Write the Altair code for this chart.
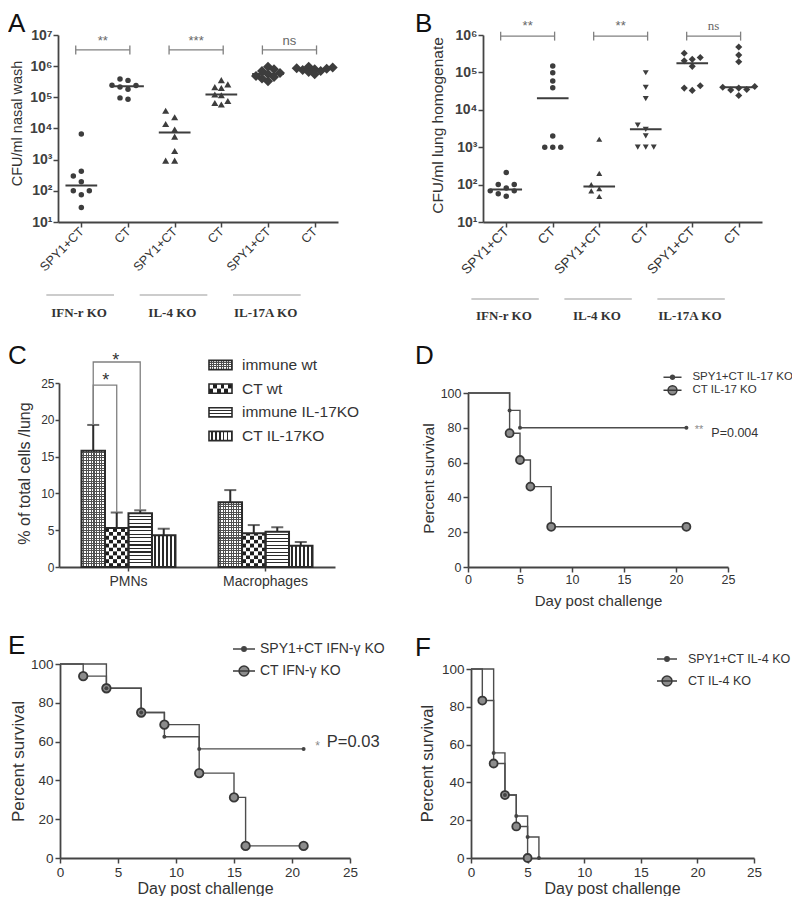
import altair as alt
import numpy as np
import pandas as pd

# ======================= DATA =======================
groups = ["IFN-r KO", "IL-4 KO", "IL-17A KO"]
treatments = ["SPY1+CT", "CT"]

# Panel A : CFU/ml nasal wash
A_ifn_spy = [6700, 425, 300, 196, 100, 100, 75, 29]
A_ifn_ct = [385000, 350000, 245000, 240000, 213000, 183000, 96000, 87000]
A_il4_spy = [37000, 23000, 14000, 9300, 5500, 1900, 930, 930]
A_il4_ct = [355000, 260000, 213000, 200000, 123000, 117000, 76000, 66000, 59000]
A_il17_spy = [950000, 800000, 700000, 600000, 560000, 480000, 450000, 400000, 330000]
A_il17_ct = [950000, 900000, 850000, 820000, 800000, 750000, 700000, 650000, 550000]
A_sig = ["**", "***", "ns"]

# Panel B : CFU/ml lung homogenate
B_ifn_spy = [210, 100, 100, 81, 68, 68, 57, 49]
B_ifn_ct = [148000, 98000, 59000, 39000, 2000, 1000, 1000, 1000]
B_il4_spy = [1630, 200, 100, 78, 68, 48]
B_il4_ct = [98000, 40000, 20000, 3900, 3000, 2000, 1000, 1000, 1000]
B_il17_spy = [324000, 251000, 223000, 206000, 145000, 44000, 38000, 33000]
B_il17_ct = [477000, 290000, 193000, 42000, 40000, 38000, 35000, 34000, 24000]
B_sig = ["**", "**", "ns"]

# Panel C : % of total cells / lung
cell_types = ["PMNs", "Macrophages"]
C_series = ["immune wt", "CT wt", "immune IL-17KO", "CT IL-17KO"]
C_pmn_mean = [15.8, 5.3, 7.3, 4.3]
C_pmn_sem = [3.5, 2.1, 0.4, 0.9]
C_mac_mean = [8.8, 4.6, 4.8, 2.9]
C_mac_sem = [1.65, 1.1, 0.6, 0.5]
C_ticks = [0, 5, 10, 15, 20, 25]

# Panels D-F : Kaplan-Meier survival
day_ticks = [0, 5, 10, 15, 20, 25]
pct_ticks = [0, 20, 40, 60, 80, 100]

D_names = ["SPY1+CT IL-17 KO", "CT IL-17 KO"]
D_spy_day = [0, 4, 5, 21]
D_spy_pct = [100, 90, 80, 80]
D_ct_day = [0, 4, 5, 6, 8, 21]
D_ct_pct = [100, 76.9, 61.5, 46.2, 23.1, 23.1]

E_names = ["SPY1+CT IFN-γ KO", "CT IFN-γ KO"]
E_spy_day = [0, 4, 7, 9, 12, 21]
E_spy_pct = [100, 87.5, 75, 62.5, 56.25, 56.25]
E_ct_day = [0, 2, 4, 7, 9, 12, 15, 16, 21]
E_ct_pct = [100, 93.75, 87.5, 75, 68.75, 43.75, 31.25, 6.25, 6.25]

F_names = ["SPY1+CT IL-4 KO", "CT IL-4 KO"]
F_spy_day = [0, 2, 3, 4, 5, 6]
F_spy_pct = [100, 55.6, 33.3, 22.2, 11.1, 0]
F_ct_day = [0, 1, 2, 3, 4, 5]
F_ct_pct = [100, 83.3, 50, 33.3, 16.7, 0]

# ======================= STYLE / LAYOUT =======================
W, H = 784, 888
FONT = "Liberation Sans"
SERIF = "Liberation Serif"
AXC = "#444444"
TXT = "#333333"
PT = "#3d3d3d"
BRC = "#808080"
EDGE = "#2a2a2a"
LINE = "#4d4d4d"
CT_FILL = "#8c8c8c"
CT_EDGE = "#383838"
CLEAR = "rgba(255,255,255,0)"


def ax(**kw):
    base = dict(domainColor=AXC, domainWidth=1.8, tickColor=AXC, tickWidth=1.5, tickSize=5,
                labelColor=TXT, labelFont=FONT, titleFont=FONT, titleColor=TXT,
                titleFontWeight="normal", grid=False, labelFlush=False, labelOverlap=False)
    base.update(kw)
    return alt.Axis(**base)


def left_axis(x, title, tx, ty, tsize, lsize, values, **kw):
    return ax(orient="left", offset=-x, values=values, title=title, titleX=tx - x, titleY=ty,
              titleAngle=270, titleAlign="center", titleBaseline="middle", titleFontSize=tsize,
              labelFontSize=lsize, **kw)


def bottom_axis(y, values=None, title=None, tx=None, ty=None, tsize=None, lsize=13,
                tbase="middle", **kw):
    d = dict(orient="bottom", offset=y - H, labelFontSize=lsize)
    if values is not None:
        d["values"] = values
    if title:
        d.update(title=title, titleX=tx, titleY=ty - y, titleAlign="center",
                 titleBaseline=tbase, titleFontSize=tsize)
    else:
        d["title"] = None
    d.update(kw)
    return ax(**d)


def swarm(vals, px_per_decade, step, thresh):
    ys = np.log10(np.asarray(vals, float)) * px_per_decade
    order = np.argsort(ys, kind="stable")
    placed, offs = [], np.zeros(len(ys))
    for i in order:
        for k in (0, -1, 1, -2, 2, -3, 3, -4, 4, -5, 5):
            if all(abs(ys[i] - py) >= thresh for py, pk in placed if pk == k):
                break
        placed.append((ys[i], k))
        offs[i] = k * step
    return offs


def scatter_panel(sets, sig, top_exp, x0, x1, yb, yt, shapes, sizes, steps, threshs,
                  ytitle, ytx, yty, ytsize, xlab_size, br_exp, br_half, star_exp,
                  glab_y, gline_y, ns_font):
    ppu = (x1 - x0) / 6.0
    ppd = (yb - yt) / (top_exp - 1.0)
    xs = alt.Scale(domain=[-0.5, 5.5], range=[x0, x1], nice=False, zero=False)
    ys = alt.Scale(type="log", domain=[10, 10 ** top_exp], range=[yb, yt], nice=False)
    yvals = [10 ** k for k in range(1, top_exp + 1)]
    sup = "['⁰','¹','²','³','⁴','⁵','⁶','⁷','⁸']"
    ax_y = left_axis(x0, ytitle, ytx, yty, ytsize, 14, yvals,
                     labelExpr="'10' + " + sup + "[round(log(datum.value) / LN10)]",
                     labelFontWeight="bold", labelPadding=1, labelColor="#404040")
    tnames = "[" + ",".join("'%s'" % t for t in treatments) + "]"
    ax_x = bottom_axis(yb, list(range(6)), lsize=xlab_size,
                       labelExpr=tnames + "[datum.value % 2]",
                       labelAngle=-45, labelAlign="right", labelBaseline="middle", labelPadding=2)
    X = lambda f: alt.X(f, scale=xs, axis=ax_x)
    Y = lambda f: alt.Y(f, scale=ys, axis=ax_y)
    layers, med_rows = [], []
    for gi, g in enumerate(groups):
        for ti, t in enumerate(treatments):
            idx = 2 * gi + ti
            vals = sets[gi][ti]
            offs = swarm(vals, ppd, steps[idx], threshs[idx])
            dfp = pd.DataFrame({"xj": idx + offs / ppu, "val": vals})
            layers.append(
                alt.Chart(dfp).mark_point(filled=True, opacity=1, color=PT, shape=shapes[idx],
                                          size=sizes[idx], strokeWidth=0).encode(
                    x=X("xj:Q"), y=Y("val:Q")))
            med_rows.append({"m1": idx - 0.34, "m2": idx + 0.34, "med": float(np.median(vals))})
    dmed = pd.DataFrame(med_rows)
    layers.append(alt.Chart(dmed).mark_rule(color=PT, strokeWidth=2).encode(
        x=X("m1:Q"), x2="m2:Q", y=Y("med:Q")))
    by = 10 ** br_exp
    br = pd.DataFrame({"b1": [2 * g - 0.12 for g in range(3)],
                       "b2": [2 * g + 1.04 for g in range(3)],
                       "by": [by] * 3,
                       "sx": [2 * g + 0.46 for g in range(3)],
                       "sy": [10 ** star_exp] * 3,
                       "lab": sig})
    ends = pd.DataFrame({"bx": list(br["b1"]) + list(br["b2"]),
                         "lo": [by * 10 ** (-br_half)] * 6,
                         "hi": [by * 10 ** br_half] * 6})
    layers.append(alt.Chart(br).mark_rule(color=BRC, strokeWidth=1.3).encode(
        x=X("b1:Q"), x2="b2:Q", y=Y("by:Q")))
    layers.append(alt.Chart(ends).mark_rule(color=BRC, strokeWidth=1.3).encode(
        x=X("bx:Q"), y=Y("lo:Q"), y2="hi:Q"))
    layers.append(alt.Chart(br).transform_filter(alt.datum.lab != "ns").mark_text(
        fontSize=13, color="#666666", baseline="middle", font=FONT).encode(
        x=X("sx:Q"), y=Y("sy:Q"), text="lab:N"))
    layers.append(alt.Chart(br).transform_filter(alt.datum.lab == "ns").mark_text(
        fontSize=13, color="#666666", baseline="middle", font=ns_font).encode(
        x=X("sx:Q"), y=Y("sy:Q"), text="lab:N"))
    glab = pd.DataFrame({"grp": groups,
                         "gx": [2 * g - 0.05 for g in range(3)],
                         "g1": [2 * g - 0.75 for g in range(3)],
                         "g2": [2 * g + 0.7 for g in range(3)]})
    layers.append(alt.Chart(glab).mark_rule(color="#9a9a9a", strokeWidth=1.2).encode(
        x=X("g1:Q"), x2="g2:Q", y=alt.value(gline_y)))
    layers.append(alt.Chart(glab).mark_text(font=SERIF, fontWeight="bold", fontSize=13,
                                            color=TXT, baseline="middle").encode(
        x=X("gx:Q"), y=alt.value(glab_y), text="grp:N"))
    return alt.layer(*layers)


# ---------- A & B ----------
panelA = scatter_panel(
    [[A_ifn_spy, A_ifn_ct], [A_il4_spy, A_il4_ct], [A_il17_spy, A_il17_ct]], A_sig, 7,
    50, 330, 214, 27,
    ["circle", "circle", "triangle-up", "triangle-up", "diamond", "diamond"],
    [30, 30, 50, 50, 100, 100],
    [8, 8, 9, 6.5, 6, 6], [6, 6, 7, 6, 6, 5],
    "CFU/ml nasal wash", 9, 115, 14.5, 12.5, 6.52, 0.145, 6.8, 305, 287, FONT)

panelB = scatter_panel(
    [[B_ifn_spy, B_ifn_ct], [B_il4_spy, B_il4_ct], [B_il17_spy, B_il17_ct]], B_sig, 6,
    475, 754, 214, 27,
    ["circle", "circle", "triangle-up", "triangle-down", "diamond", "diamond"],
    [30, 30, 36, 36, 50, 50],
    [8, 8, 8, 8, 8, 8], [6, 6, 6, 6, 6.5, 6.5],
    "CFU/ml lung homogenate", 429, 117, 15.5, 13.5, 5.97, 0.12, 6.25, 308, 291, SERIF)


# ---------- C ----------
def stripes(n, horizontal_lines, dark="#2a2a2a", light="#ffffff", dark_frac=0.38):
    n = max(1, int(n))
    stops = []
    for k in range(n):
        a, b, c = k / n, (k + 1 - dark_frac) / n, (k + 1) / n
        stops += [alt.GradientStop(offset=a, color=light), alt.GradientStop(offset=b, color=light),
                  alt.GradientStop(offset=b, color=dark), alt.GradientStop(offset=c, color=dark)]
    if horizontal_lines:
        return alt.LinearGradient(gradient="linear", stops=stops, x1=0, x2=0, y1=0, y2=1)
    return alt.LinearGradient(gradient="linear", stops=stops, x1=0, x2=1, y1=0, y2=0)


C_Y0, C_Y1 = 559, 375
PXU = (C_Y0 - C_Y1) / 25.0          # pixels per percent unit
xC = alt.Scale(domain=cell_types, range=[51, 327], paddingInner=0.314, paddingOuter=0.164)
yC = alt.Scale(domain=[0, 25], range=[C_Y0, C_Y1], nice=False)
xoC = alt.Scale(domain=C_series, paddingInner=0, paddingOuter=0)

rowsC = []
for c, means, sems in zip(cell_types, [C_pmn_mean, C_mac_mean], [C_pmn_sem, C_mac_sem]):
    for s, m, e in zip(C_series, means, sems):
        rowsC.append({"cell": c, "series": s, "mean": m, "top": m + e})
dfC = pd.DataFrame(rowsC)

ax_cx = bottom_axis(559, lsize=14, tickSize=4, labelPadding=3, labelAngle=0)
ax_cy = left_axis(51, "% of total cells /lung", 16, 465, 16, 12, C_ticks, labelPadding=1, tickSize=4)
CX = alt.X("cell:N", scale=xC, axis=ax_cx)
CO = alt.XOffset("series:N", scale=xoC)
CY = lambda f: alt.Y(f, scale=yC, axis=ax_cy)


def fill_bar(df, fill, y="mean:Q", y2=None):
    enc = dict(x=CX, xOffset=CO, y=CY(y))
    if y2:
        enc["y2"] = y2
    return alt.Chart(df).mark_bar(fill=fill, strokeWidth=0, opacity=1).encode(**enc)


c_layers = []
for r in rowsC:
    one_bar = pd.DataFrame([r])
    hp = r["mean"] * PXU
    s = r["series"]
    if s == "immune wt":       # fine dotted texture
        c_layers.append(fill_bar(one_bar, "#ffffff"))
        c_layers.append(fill_bar(one_bar, stripes(9, False, "#505050", CLEAR, 0.4)))
        c_layers.append(fill_bar(one_bar, stripes(round(hp / 2.6), True, "#505050", CLEAR, 0.4)))
    elif s == "CT wt":         # checkerboard
        cu = 3.9 / PXU
        nrow = int(np.ceil(r["mean"] / cu))
        chk = pd.DataFrame({"cell": r["cell"], "series": s,
                            "y0": [k * cu for k in range(nrow)],
                            "y1": [min(r["mean"], (k + 1) * cu) for k in range(nrow)],
                            "par": [k % 2 for k in range(nrow)]})
        c_layers.append(fill_bar(chk[chk.par == 0], stripes(3, False, "#1e1e1e", "#ffffff", 0.5),
                                 "y0:Q", "y1:Q"))
        c_layers.append(fill_bar(chk[chk.par == 1], stripes(3, False, "#ffffff", "#1e1e1e", 0.5),
                                 "y0:Q", "y1:Q"))
    elif s == "immune IL-17KO":  # horizontal stripes
        c_layers.append(fill_bar(one_bar, stripes(round(hp / 3.6), True, "#2a2a2a", "#ffffff", 0.35)))
    else:                        # vertical stripes
        c_layers.append(fill_bar(one_bar, stripes(6, False, "#2a2a2a", "#ffffff", 0.38)))
c_layers.append(alt.Chart(dfC).mark_bar(fill="transparent", stroke=EDGE, strokeWidth=2).encode(
    x=CX, xOffset=CO, y=CY("mean:Q")))
c_layers.append(alt.Chart(dfC).mark_rule(color=EDGE, strokeWidth=2).encode(
    x=CX, xOffset=CO, y=CY("mean:Q"), y2="top:Q"))
c_layers.append(alt.Chart(dfC).mark_tick(color=EDGE, thickness=2, size=12).encode(
    x=CX, xOffset=CO, y=CY("top:Q")))

C_br_low, C_br_high = 24.7, 27.85
tops = {(r["cell"], r["series"]): r["top"] for r in rowsC}
br_rows = []
for b, (target, level) in enumerate([("CT wt", C_br_low), ("immune IL-17KO", C_br_high)]):
    verts = [("immune wt", tops[("PMNs", "immune wt")]), ("immune wt", level),
             (target, level), (target, tops[("PMNs", target)])]
    for o, (s, yv) in enumerate(verts):
        br_rows.append({"br": b, "ord": o, "cell": "PMNs", "series": s, "y": yv})
c_layers.append(alt.Chart(pd.DataFrame(br_rows)).mark_line(color=BRC, strokeWidth=1.3).encode(
    x=CX, xOffset=CO, y=CY("y:Q"), detail="br:N", order="ord:Q"))
star_df = pd.DataFrame({"cell": ["PMNs", "PMNs"], "series": ["CT wt", "CT wt"],
                        "y": [C_br_high + 0.1, C_br_low + 0.6]})
c_layers.append(alt.Chart(star_df.iloc[[0]]).mark_text(
    text="*", fontSize=18, color=TXT, baseline="middle", dx=-1).encode(
    x=CX, xOffset=CO, y=CY("y:Q")))
c_layers.append(alt.Chart(star_df.iloc[[1]]).mark_text(
    text="*", fontSize=18, color=TXT, baseline="middle", dx=-11).encode(
    x=CX, xOffset=CO, y=CY("y:Q")))
panelC = alt.layer(*c_layers)

# legend of C (patterned swatches)
legC_df = pd.DataFrame({"series": C_series})
yLeg = alt.Scale(type="point", domain=C_series, range=[357, 428], padding=0)
LY = alt.Y("series:N", scale=yLeg, axis=None)
RECT_PATH = "M-1,-0.4H1V0.4H-1Z"
TOP_HALF = "M-1,-0.4H1V0H-1Z"
BOT_HALF = "M-1,0H1V0.4H-1Z"


def swatch(series, fill, shape=RECT_PATH):
    return alt.Chart(legC_df).transform_filter(alt.datum.series == series).mark_point(
        shape=shape, size=529, filled=True, fill=fill, strokeWidth=0, opacity=1).encode(
        x=alt.value(212.5), y=LY)


leg_layers = [
    swatch("immune wt", "#ffffff"),
    swatch("immune wt", stripes(9, False, "#505050", CLEAR, 0.4)),
    swatch("immune wt", stripes(4, True, "#505050", CLEAR, 0.4)),
    swatch("CT wt", stripes(3, False, "#1e1e1e", "#ffffff", 0.5), TOP_HALF),
    swatch("CT wt", stripes(3, False, "#ffffff", "#1e1e1e", 0.5), BOT_HALF),
    swatch("immune IL-17KO", stripes(3, True, "#2a2a2a", "#ffffff", 0.35)),
    swatch("CT IL-17KO", stripes(6, False, "#2a2a2a", "#ffffff", 0.38)),
    alt.Chart(legC_df).mark_point(shape=RECT_PATH, size=529, filled=False, stroke=EDGE,
                                  strokeWidth=1.6, opacity=1).encode(x=alt.value(212.5), y=LY),
    alt.Chart(legC_df).mark_text(align="left", baseline="middle", fontSize=15.5, font=FONT,
                                 color=TXT).encode(x=alt.value(234), y=LY, text="series:N"),
]
legendC = alt.layer(*leg_layers)


# ---------- D, E, F ----------
def legpath(r, half=1.0):
    return "M{a},0H{h}M{r},0A{r},{r},0,1,1,{m},0A{r},{r},0,1,1,{r},0Z".format(
        a=-half, h=half, r=r, m=-r)


def km_panel(names, spy_day, spy_pct, ct_day, ct_pct, x0, x1, yb, yt,
             ylab, xlab, xlabpad, ytg, xtg, leg, ct_size, texts):
    rows = [{"series": names[0], "day": d, "pct": p} for d, p in zip(spy_day, spy_pct)]
    rows += [{"series": names[1], "day": d, "pct": p} for d, p in zip(ct_day, ct_pct)]
    df = pd.DataFrame(rows)
    xs = alt.Scale(domain=[0, 25], range=[x0, x1], nice=False, zero=False)
    ys = alt.Scale(domain=[0, 100], range=[yb, yt], nice=False)
    ay = left_axis(x0, "Percent survival", ytg[0], ytg[1], ytg[2], ylab, pct_ticks,
                   labelPadding=2, tickSize=5)
    axx = bottom_axis(yb, day_ticks, "Day post challenge", xtg[0], xtg[1], xtg[2], lsize=xlab,
                      tbase=xtg[3], labelPadding=xlabpad, tickSize=5)
    X = lambda f: alt.X(f, scale=xs, axis=axx)
    Y = lambda f: alt.Y(f, scale=ys, axis=ay)
    layers = [alt.Chart(df).mark_line(interpolate="step-after", color=LINE, strokeWidth=1.4).encode(
        x=X("day:Q"), y=Y("pct:Q"), detail="series:N")]
    layers.append(alt.Chart(df).transform_filter(
        (alt.datum.series == names[1]) & (alt.datum.day > 0)).mark_point(
        filled=True, fill=CT_FILL, stroke=CT_EDGE, strokeWidth=1.8, size=ct_size, opacity=1).encode(
        x=X("day:Q"), y=Y("pct:Q")))
    layers.append(alt.Chart(df).transform_filter(
        (alt.datum.series == names[0]) & (alt.datum.day > 0)).mark_point(
        filled=True, color="#444444", size=16, opacity=1).encode(
        x=X("day:Q"), y=Y("pct:Q")))
    lx, ly, ss, lfs, rp, lo, rdot, rring, half = leg
    lg = alt.Legend(orient="none", legendX=lx, legendY=ly, title=None, symbolSize=ss,
                    labelFontSize=lfs, labelFont=FONT, labelColor=TXT, rowPadding=rp,
                    labelOffset=lo, symbolStrokeWidth=1.5, padding=0, labelLimit=300)
    layers.append(alt.Chart(df).transform_filter("false").mark_point(
        filled=True, opacity=1, strokeWidth=1.5, size=ss).encode(
        x=X("day:Q"), y=Y("pct:Q"),
        shape=alt.Shape("series:N", scale=alt.Scale(
            domain=names, range=[legpath(rdot, half), legpath(rring, half)]), legend=lg),
        fill=alt.Fill("series:N", scale=alt.Scale(domain=names, range=["#444444", CT_FILL]), legend=lg),
        stroke=alt.Stroke("series:N", scale=alt.Scale(domain=names, range=["#444444", CT_EDGE]), legend=lg)))
    for (tx, d, p, size, color) in texts:
        layers.append(alt.Chart(pd.DataFrame({"d": [d], "p": [p], "t": [tx]})).mark_text(
            align="left", baseline="middle", fontSize=size, color=color, font=FONT).encode(
            x=X("d:Q"), y=Y("p:Q"), text="t:N"))
    return alt.layer(*layers)


panelD = km_panel(D_names, D_spy_day, D_spy_pct, D_ct_day, D_ct_pct,
                  460, 720, 559, 385, 12.5, 12.5, 1, (420, 470, 15.5), (590, 592, 15, "middle"),
                  (657, 361.7, 159, 11.5, 0, 12.4, 0.32, 0.71, 1.43), 64,
                  [("**", 21.8, 78.5, 11, "#8a8a8a"), ("P=0.004", 23.4, 77, 12.5, TXT)])
panelE = km_panel(E_names, E_spy_day, E_spy_pct, E_ct_day, E_ct_pct,
                  52, 342, 850, 656, 13.5, 13.5, 2, (10, 753, 17), (197, 885, 16, "alphabetic"),
                  (224, 629, 484, 14, 3, 4, 0.2, 0.45, 1.0), 72,
                  [("*", 22.0, 57.5, 12, "#8a8a8a"), ("P=0.03", 23.0, 59.8, 16.5, TXT)])
panelF = km_panel(F_names, F_spy_day, F_spy_pct, F_ct_day, F_ct_pct,
                  463, 746, 850, 661, 13.5, 13.5, 2, (419, 755, 16.5), (604, 885, 16, "alphabetic"),
                  (648, 640, 400, 12.5, 4, 10, 0.22, 0.5, 1.0), 64, [])

# ---------- panel letters ----------
one = pd.DataFrame({"k": [0]})
letters = []
for txt, lx, ly in [("A", 0, 24), ("B", 407, 24), ("C", 0, 356), ("D", 407, 356),
                    ("E", 0, 646), ("F", 407, 648)]:
    letters.append(alt.Chart(one).mark_text(text=txt, fontSize=26, font=FONT, color="#111111",
                                            align="left", baseline="alphabetic").encode(
        x=alt.value(lx), y=alt.value(ly)))

chart = alt.layer(panelA, panelB, panelC, legendC, panelD, panelE, panelF, *letters).resolve_scale(
    x="independent", y="independent", shape="independent", fill="independent",
    stroke="independent").resolve_axis(x="independent", y="independent").resolve_legend(
    shape="independent", fill="independent", stroke="independent").properties(
    width=W, height=H, padding=0, autosize=alt.AutoSizeParams(type="none")).configure(
    font=FONT).configure_view(stroke=None)

chart.save("out.html", embed_options={"renderer": "svg", "actions": False})
